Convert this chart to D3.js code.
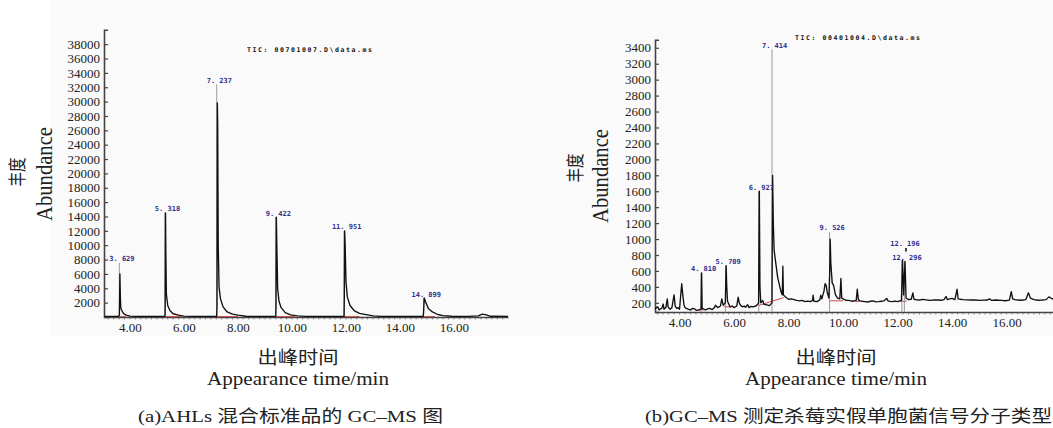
<!DOCTYPE html>
<html>
<head>
<meta charset="utf-8">
<script src="https://cdn.jsdelivr.net/npm/d3@7"></script>
<style>
	body { margin: 0; background: #fff; }
	svg { display: block; }
	.axis path, .axis line { stroke: #444; }
	.trace { fill: none; stroke: #111; stroke-width: 1.35; stroke-linejoin: round; }
	.apex { stroke: #9a9a9a; stroke-width: 1; }
	.base { stroke: #d24a4a; stroke-width: 1; }
	.plabel { font-family: "DejaVu Sans Mono", monospace; font-weight: bold; font-size: 7px; fill: #30308e; }
	.tic { font-family: "DejaVu Sans Mono", monospace; font-weight: bold; font-size: 6.5px; fill: #111; }
	.title { font-family: "Liberation Serif", "Noto Sans CJK SC", serif; fill: #222; }
</style>
</head>
<body>
<div id="chart"></div>
<script>
// ---- data ----
var xTickValues = [4, 6, 8, 10, 12, 14, 16];
var xTickLabels = ["4.00", "6.00", "8.00", "10.00", "12.00", "14.00", "16.00"];

var leftYTicks = [2000, 4000, 6000, 8000, 10000, 12000, 14000, 16000, 18000, 20000,
	22000, 24000, 26000, 28000, 30000, 32000, 34000, 36000, 38000];
var rightYTicks = [200, 400, 600, 800, 1000, 1200, 1400, 1600, 1800, 2000,
	2200, 2400, 2600, 2800, 3000, 3200, 3400];

// (a) standard mix, [time, abundance]
var leftTrace = [
	[3.05, 80], [3.58, 80], [3.61, 300], [3.629, 6000], [3.645, 3000], [3.66, 1300], [3.70, 900], [3.76, 500], [3.86, 250], [4.0, 120], [4.2, 80],
	[5.29, 80], [5.305, 400], [5.318, 14500], [5.33, 9000], [5.35, 3200], [5.40, 1600], [5.48, 900], [5.6, 450], [5.8, 250], [6.0, 120], [6.3, 80],
	[7.21, 80], [7.225, 1500], [7.237, 29800], [7.25, 27000], [7.27, 10000], [7.30, 4200], [7.35, 2600], [7.45, 1400], [7.6, 700], [7.8, 400], [8.0, 250], [8.3, 100], [8.6, 80],
	[9.40, 80], [9.41, 2000], [9.422, 13900], [9.44, 10000], [9.47, 4000], [9.52, 2200], [9.6, 1300], [9.75, 600], [9.95, 300], [10.2, 150], [10.5, 80],
	[11.93, 80], [11.94, 3000], [11.951, 12000], [11.97, 10000], [12.0, 5000], [12.05, 2800], [12.15, 1600], [12.3, 900], [12.5, 500], [12.8, 300], [13.0, 150], [13.3, 80],
	[14.86, 80], [14.875, 800], [14.899, 2640], [14.95, 2100], [15.05, 1200], [15.2, 700], [15.4, 350], [15.6, 200], [15.9, 100], [16.5, 80],
	[16.9, 150], [17.05, 400], [17.2, 300], [17.35, 100], [18.0, 80]
];
var leftPeakTimes = [3.629, 5.318, 7.237, 9.422, 11.951, 14.899];
var leftPeakApex = [7550, 14500, 32400, 13900, 12000, 2640];
var leftPeakLabels = ["3.629", "5.318", "7.237", "9.422", "11.951", "14.899"];
var leftBaselines = [[3.6, 3.85], [5.3, 5.9], [7.2, 8.0], [9.4, 10.1], [11.93, 12.5], [14.86, 15.3]];
var leftBaseLevel = 60;

// (b) sample, [time, abundance]
var rightTrace = [
	[3.10, 120], [3.15, 140], [3.2, 150], [3.25, 110], [3.3, 125], [3.35, 130], [3.40, 185], [3.43, 120], [3.47, 135], [3.5, 140], [3.55, 250], [3.58, 150], [3.62, 130], [3.65, 120],
	[3.72, 140], [3.80, 300], [3.84, 160], [3.9, 130], [3.95, 140], [4.0, 120], [4.08, 440], [4.12, 300], [4.16, 180], [4.2, 140], [4.25, 130], [4.32, 120], [4.4, 110], [4.48, 130],
	[4.55, 125], [4.62, 105], [4.7, 110], [4.79, 120], [4.81, 575], [4.83, 130], [4.9, 120], [4.95, 110], [5.03, 125], [5.1, 130], [5.2, 115], [5.28, 140], [5.32, 170], [5.4, 140],
	[5.45, 150], [5.5, 160], [5.55, 250], [5.6, 170], [5.68, 200], [5.71, 665], [5.73, 420], [5.76, 220], [5.85, 150], [5.93, 160], [6.0, 140], [6.1, 160],
	[6.15, 270], [6.2, 190], [6.25, 165], [6.3, 150], [6.37, 160], [6.42, 145], [6.5, 175], [6.55, 140], [6.62, 155], [6.7, 150], [6.8, 160], [6.85, 175], [6.90, 200], [6.927, 1600],
	[6.95, 400], [6.98, 200], [7.05, 230], [7.1, 180], [7.2, 175], [7.3, 165], [7.39, 200], [7.414, 1800], [7.44, 1200], [7.47, 860],
	[7.53, 700], [7.6, 520], [7.68, 400], [7.74, 320], [7.77, 300], [7.79, 660], [7.81, 300], [7.9, 270], [8.0, 245], [8.1, 250], [8.2, 240],
	[8.3, 230], [8.4, 225], [8.5, 230], [8.6, 215], [8.7, 222], [8.8, 215], [8.88, 230], [8.9, 295], [8.93, 220], [9.05, 215], [9.15, 240], [9.18, 295], [9.22, 250],
	[9.3, 350], [9.34, 440], [9.38, 420], [9.42, 330], [9.48, 260], [9.51, 600], [9.526, 1000], [9.55, 700], [9.6, 450], [9.65, 420],
	[9.72, 300], [9.8, 260], [9.88, 250], [9.92, 505], [9.95, 260], [10.05, 240], [10.12, 230], [10.2, 230], [10.28, 225], [10.35, 220], [10.48, 230], [10.52, 370],
	[10.56, 240], [10.62, 225], [10.7, 220], [10.8, 215], [10.9, 210], [11.0, 220], [11.1, 225], [11.2, 212], [11.3, 215], [11.4, 220], [11.5, 225], [11.6, 255], [11.65, 225], [11.72, 218], [11.8, 215], [11.9, 222], [12.0, 215],
	[12.14, 230], [12.18, 735], [12.22, 300], [12.27, 720], [12.31, 260], [12.4, 240], [12.5, 245], [12.56, 325], [12.6, 245], [12.7, 238], [12.8, 235],
	[12.9, 242], [13.0, 240], [13.1, 235], [13.2, 230], [13.35, 238], [13.5, 235], [13.6, 232], [13.7, 240], [13.78, 280], [13.82, 240], [13.9, 250], [14.0, 255], [14.1, 240], [14.18, 370],
	[14.22, 250], [14.3, 245], [14.4, 240], [14.55, 238], [14.7, 235], [14.85, 236], [15.0, 230], [15.15, 234], [15.3, 235], [15.37, 250], [15.45, 230], [15.6, 235], [15.8, 230], [15.95, 226], [16.1, 235], [16.17, 340],
	[16.22, 250], [16.3, 240], [16.4, 235], [16.55, 232], [16.7, 240], [16.8, 325], [16.87, 260], [17.0, 240], [17.15, 232], [17.3, 235], [17.45, 240], [17.55, 275], [17.62, 260], [17.75, 240]
];
var rightPeakTimes = [4.81, 5.71, 6.927, 7.414, 9.526, 12.18, 12.27];
var rightPeakApex = [575, 665, 1600, 3380, 1090, 735, 720];
var rightPeakLabels = ["4.810", "5.709", "6.927", "7.414", "9.526", "12.196", "12.296"];
var rightBaselines = [[[4.75, 112], [4.9, 112]], [[5.62, 150], [5.9, 150]], [[6.88, 165], [7.82, 265]],
	[[9.48, 225], [10.0, 225]], [[10.45, 218], [10.6, 218]], [[12.1, 215], [12.33, 222]]];

// ---- drawing ----
function chromPanel() {}

chromPanel.prototype.init = function(options) {
	this.options = options;
	this.svg = options.svg;
	this.x = d3.scaleLinear().domain(options.xDomain).range(options.xRange);
	this.y = d3.scaleLinear().domain(options.yDomain).range(options.yRange);
	this.g = this.svg.append("g");
}

chromPanel.prototype.draw = function() {
	var o = this.options;
	var g = this.g;
	var x = this.x;
	var y = this.y;
	var y0 = o.yRange[0];

	// minor ticks under the time axis
	g.append("g")
		.selectAll("line")
		.data(d3.range(Math.ceil(o.xDomain[0] * 5) / 5, o.xDomain[1], 0.2))
		.enter()
		.append("line")
			.attr("x1", function(d) { return x(d); })
			.attr("x2", function(d) { return x(d); })
			.attr("y1", y0)
			.attr("y2", y0 + 2.5)
			.attr("stroke", "#777")
			.attr("stroke-width", 0.8);

	var xAxis = d3.axisBottom(x)
		.tickValues(xTickValues)
		.tickFormat(function(d, i) { return xTickLabels[i]; })
		.tickSize(0)
		.tickPadding(6);
	var yAxis = d3.axisLeft(y)
		.tickValues(o.yTicks)
		.tickFormat(function(d) { return d; })
		.tickSize(-4)
		.tickPadding(4);

	g.append("g")
		.attr("class", "x axis")
		.attr("transform", "translate(0," + y0 + ")")
		.call(xAxis)
		.select(".domain").attr("stroke-width", 1.6);

	g.append("g")
		.attr("class", "y axis")
		.attr("transform", "translate(" + o.xRange[0] + ",0)")
		.call(yAxis)
		.select(".domain").attr("stroke-width", 1.6);

	g.selectAll(".axis")
		.attr("font-family", "'Liberation Serif', 'Times New Roman', serif")
		.attr("font-size", 13);
	g.selectAll(".tick text").attr("fill", "#222");
	g.selectAll(".tick line").attr("stroke-width", 1.2);

	// integration baselines
	g.selectAll(".base")
		.data(o.baselines)
		.enter()
		.append("line")
			.attr("class", "base")
			.attr("x1", function(d) { return x(d[0][0]); })
			.attr("y1", function(d) { return y(d[0][1]); })
			.attr("x2", function(d) { return x(d[1][0]); })
			.attr("y2", function(d) { return y(d[1][1]); });

	// thin grey apex markers
	g.selectAll(".apex")
		.data(o.peakTimes)
		.enter()
		.append("line")
			.attr("class", "apex")
			.attr("x1", function(d) { return x(d) - 0.6; })
			.attr("x2", function(d) { return x(d) - 0.6; })
			.attr("y1", y0)
			.attr("y2", function(d, i) { return y(o.peakApex[i]); });

	var line = d3.line()
		.x(function(d) { return x(d[0]); })
		.y(function(d) { return y(d[1]); });

	g.append("path")
		.datum(o.trace)
		.attr("class", "trace")
		.attr("d", line);

	// peak labels, stacked when two peaks almost coincide
	var pos = o.peakTimes.map(function(t, i) {
		return { t: t, x: x(t) + 2, y: y(o.peakApex[i]) - 1.5, text: o.peakLabels[i].replace(".", ". ") };
	});
	for (var i = 1; i < pos.length; i++) {
		if (pos[i].t - pos[i-1].t < 0.2) {
			pos[i-1].y = pos[i].y - 14;
			pos[i-1].x = pos[i].x - 2;
			g.append("line")
				.attr("x1", pos[i].x - 1).attr("x2", pos[i].x - 1)
				.attr("y1", pos[i].y - 12).attr("y2", pos[i].y - 8.5)
				.attr("stroke", "#111").attr("stroke-width", 1.6);
		}
	}
	g.selectAll(".plabel")
		.data(pos)
		.enter()
		.append("text")
			.attr("class", "plabel")
			.attr("text-anchor", "middle")
			.attr("x", function(d) { return d.x; })
			.attr("y", function(d) { return d.y; })
			.text(function(d) { return d.text; });

	g.append("text")
		.attr("class", "tic")
		.attr("x", o.tic[0])
		.attr("y", o.tic[1])
		.attr("textLength", 125)
		.text(o.ticText);

	// titles
	var t = o.titles;
	g.append("text").attr("class", "title")
		.attr("transform", "translate(" + t.cnX + "," + t.cnY + ") rotate(-90)")
		.attr("text-anchor", "middle").attr("dominant-baseline", "central")
		.style("font-size", "18px")
		.attr("textLength", 29).attr("lengthAdjust", "spacingAndGlyphs")
		.text("丰度");
	g.append("text").attr("class", "title")
		.attr("transform", "translate(" + t.enX + "," + t.enY + ") rotate(-90) scale(1,1.12)")
		.attr("text-anchor", "middle").attr("dominant-baseline", "central")
		.style("font-size", "20px")
		.attr("textLength", 94).attr("lengthAdjust", "spacingAndGlyphs")
		.text("Abundance");

	g.append("text").attr("class", "title")
		.attr("x", t.bx).attr("y", 364)
		.attr("text-anchor", "middle")
		.style("font-size", "18px")
		.attr("textLength", 81).attr("lengthAdjust", "spacingAndGlyphs")
		.text("出峰时间");
	g.append("text").attr("class", "title")
		.attr("x", t.bx).attr("y", 385)
		.attr("text-anchor", "middle")
		.style("font-size", "18px")
		.attr("textLength", 182).attr("lengthAdjust", "spacingAndGlyphs")
		.text("Appearance  time/min");
	g.append("text").attr("class", "title")
		.attr("x", t.capX).attr("y", 422)
		.style("font-size", "17px")
		.attr("textLength", t.capW).attr("lengthAdjust", "spacingAndGlyphs")
		.text(t.caption);
}

var svg = d3.select("#chart")
	.append("svg")
		.attr("width", 1053)
		.attr("height", 428);

svg.append("rect")
	.attr("x", 50).attr("y", 0)
	.attr("width", 1003).attr("height", 336)
	.attr("fill", "#fafafa");

var left = new chromPanel();
left.init({
	svg: svg,
	xDomain: [3.04, 18.0], xRange: [104, 508],
	yDomain: [0, 40000], yRange: [317, 29.8],
	yTicks: leftYTicks,
	trace: leftTrace,
	peakTimes: leftPeakTimes, peakApex: leftPeakApex, peakLabels: leftPeakLabels,
	baselines: leftBaselines.map(function(d) { return [[d[0], leftBaseLevel], [d[1], leftBaseLevel]]; }),
	tic: [247, 51.5], ticText: "TIC: 00701007.D\\data.ms",
	titles: { cnX: 18, cnY: 172, enX: 45, enY: 174, bx: 298, capX: 138, capW: 305,
		caption: "(a)AHLs 混合标准品的 GC–MS 图" }
});
left.draw();

var right = new chromPanel();
right.init({
	svg: svg,
	xDomain: [3.1, 17.7], xRange: [655, 1053],
	yDomain: [85, 3500], yRange: [312, 39.8],
	yTicks: rightYTicks,
	trace: rightTrace,
	peakTimes: rightPeakTimes, peakApex: rightPeakApex, peakLabels: rightPeakLabels,
	baselines: rightBaselines,
	tic: [795, 40], ticText: "TIC: 00401004.D\\data.ms",
	titles: { cnX: 576, cnY: 168, enX: 601, enY: 176, bx: 836, capX: 645, capW: 407,
		caption: "(b)GC–MS 测定杀莓实假单胞菌信号分子类型" }
});
right.draw();
</script>
</body>
</html>
